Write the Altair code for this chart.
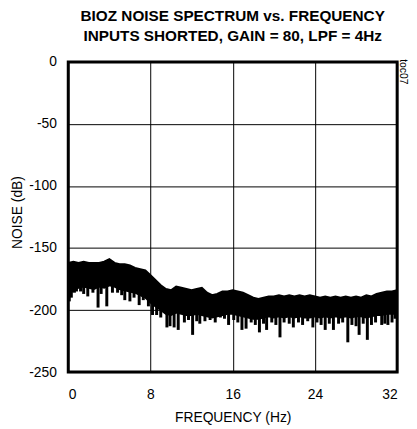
import altair as alt
import pandas as pd

# ---- data ----
freq = [0, 0.5, 1, 1.5, 2, 2.5, 3, 3.5, 4, 4.5, 5, 5.5, 6, 6.5, 7, 7.5, 8, 8.5, 9, 9.5,
        10, 10.5, 11, 11.5, 12, 12.5, 13, 13.5, 14, 14.5, 15, 15.5, 16, 16.5, 17, 17.5,
        18, 18.5, 19, 19.5, 20, 20.5, 21, 21.5, 22, 22.5, 23, 23.5, 24, 24.5, 25, 25.5,
        26, 26.5, 27, 27.5, 28, 28.5, 29, 29.5, 30, 30.5, 31, 31.5, 32]
noise_top = [-162, -161, -162, -161, -162, -162, -162, -161, -159, -162, -163, -163, -164,
             -166, -167, -168, -172, -176, -180, -183, -184, -181, -182, -183, -184, -183,
             -182, -186, -188, -187, -185, -185, -184, -185, -186, -188, -190, -191, -190,
             -189, -189, -188, -189, -188, -189, -188, -189, -188, -189, -190, -189, -190,
             -189, -190, -189, -190, -189, -190, -188, -189, -187, -186, -185, -185, -184]
noise_bottom = [-190, -183, -182, -181, -182, -183, -181, -182, -180, -181, -183, -184, -185,
                -186, -188, -190, -194, -197, -200, -203, -204, -202, -203, -204, -204, -203,
                -204, -205, -206, -205, -204, -203, -203, -204, -205, -206, -207, -207, -206,
                -205, -206, -205, -206, -205, -206, -205, -206, -206, -205, -206, -205, -206,
                -205, -206, -205, -206, -205, -205, -206, -205, -204, -204, -203, -203, -203]

spike_freq = [0.1, 0.3, 0.6, 0.8, 1.2, 1.5, 1.9, 2.4, 2.9, 3.2, 3.75, 4.3, 4.8, 5.2, 5.5, 6.0,
              6.4, 6.9, 7.3, 7.8,
              8.2, 8.6, 9.0, 9.6, 9.9, 10.3, 10.7, 11.3, 11.7, 12.1, 12.5, 12.8, 13.3, 13.8, 14.3,
              14.8, 15.2, 15.6, 16.1, 16.5, 16.9, 17.3, 17.8, 18.2, 18.6, 19.0, 19.3, 19.8, 20.2,
              20.6, 21.0, 21.5, 21.9, 22.4, 22.8, 23.3, 23.8, 24.2, 24.6, 25.0, 25.4, 25.8, 26.3,
              26.7, 27.2, 27.6, 28.0, 28.3, 28.7, 29.1, 29.5, 29.9, 30.5, 30.8, 31.1, 31.5, 31.8]
spike_from = [-178, -178, -178, -178, -178, -178, -178, -178, -178, -178, -178, -178, -178, -178,
              -178, -178, -178, -178, -178, -185,
              -188, -190, -192, -198, -198, -198, -198, -198, -198, -198, -198, -198, -198, -198,
              -198, -198, -198, -198, -198, -198, -198, -198, -198, -198, -198, -198, -198, -198,
              -198, -198, -198, -198, -198, -198, -198, -198, -198, -198, -198, -198, -198, -198,
              -198, -198, -198, -198, -198, -198, -198, -198, -198, -198, -198, -198, -198, -198,
              -198]
spike_depth = [-193, -190, -186, -185, -185, -187, -189, -186, -198, -187, -197, -186, -186, -188,
               -192, -193, -190, -196, -192, -197,
               -204, -204, -206, -214, -213, -214, -216, -210, -208, -220, -209, -211, -209, -208,
               -210, -206, -207, -212, -208, -210, -216, -215, -210, -212, -218, -211, -216, -210,
               -212, -222, -210, -211, -214, -210, -212, -209, -214, -210, -212, -216, -211, -216,
               -211, -210, -226, -212, -213, -220, -211, -224, -212, -210, -212, -211, -212, -210,
               -207]

x_ticks = [0, 8, 16, 24, 32]
y_ticks = [0, -50, -100, -150, -200, -250]
title_lines = ["BIOZ NOISE SPECTRUM vs. FREQUENCY", "INPUTS SHORTED, GAIN = 80, LPF = 4Hz"]
code_label = ["toc07"]

band = pd.DataFrame({"f": freq, "top": noise_top, "bottom": noise_bottom})
spikes = pd.DataFrame({"f": spike_freq, "start": spike_from, "depth": spike_depth})

FONT = "Liberation Sans, Arial, sans-serif"

xscale = alt.Scale(domain=[0, 32], nice=False, zero=False)
yscale = alt.Scale(domain=[-250, 0], nice=False, zero=False)

xaxis = alt.Axis(values=x_ticks, title="FREQUENCY (Hz)", grid=True, gridColor="black",
                 gridWidth=1, gridOpacity=1, ticks=False, domain=False,
                 labelFont=FONT, labelFontSize=14, labelPadding=16, labelColor="black",
                 titleFont=FONT, titleFontSize=14, titleFontWeight="normal",
                 titlePadding=9, titleColor="black")
yaxis = alt.Axis(values=y_ticks, title="NOISE (dB)", grid=True, gridColor="black",
                 gridWidth=1, gridOpacity=1, ticks=False, domain=False,
                 labelExpr="'' + datum.value",
                 labelFont=FONT, labelFontSize=14, labelPadding=12, labelColor="black",
                 titleFont=FONT, titleFontSize=14, titleFontWeight="normal",
                 titleX=-51, titleY=152, titleAngle=-90, titleAlign="center",
                 titleBaseline="middle", titleColor="black")

area = alt.Chart(band).mark_area(color="black", opacity=1).encode(
    x=alt.X("f:Q", scale=xscale, axis=xaxis),
    y=alt.Y("top:Q", scale=yscale, axis=yaxis),
    y2="bottom:Q",
)
edge_top = alt.Chart(band).mark_line(color="black", strokeWidth=2).encode(
    x="f:Q", y="top:Q")
edge_bot = alt.Chart(band).mark_line(color="black", strokeWidth=2).encode(
    x="f:Q", y="bottom:Q")
rules = alt.Chart(spikes).mark_rule(color="black", strokeWidth=3).encode(
    x="f:Q", y="start:Q", y2="depth:Q")

toc = alt.Chart(pd.DataFrame({"t": code_label})).mark_text(
    angle=90, fontSize=10.5, font="Liberation Sans", align="center", baseline="middle",
    color="black").encode(text="t:N", x=alt.value(339), y=alt.value(10))

chart = alt.layer(area, edge_top, edge_bot, rules, toc).properties(
    width=333, height=314,
    title=alt.TitleParams(text=title_lines, font=FONT, fontSize=15.5, fontWeight="bold",
                          anchor="middle", offset=11, color="black", lineHeight=20),
    padding={"left": 61, "top": 52, "right": 12, "bottom": 55},
    autosize=alt.AutoSizeParams(type="none"),
).configure_view(stroke="black", strokeWidth=3)

chart.save("out.html", embed_options={"renderer": "svg", "actions": False})
